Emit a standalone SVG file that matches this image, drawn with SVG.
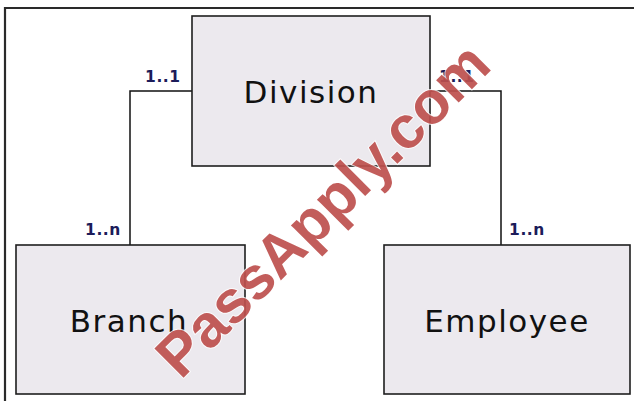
<svg xmlns="http://www.w3.org/2000/svg" width="634" height="401" viewBox="0 0 634 401">
  <style>
    .box { fill: #ece9ee; stroke: #1e1e1e; stroke-width: 1.6; }
    .name { font-family: "DejaVu Sans", Verdana, sans-serif; font-size: 31px; fill: #111; text-anchor: middle; letter-spacing: 1.5px; }
    .card { font-family: "DejaVu Sans", Verdana, sans-serif; font-weight: bold; font-size: 15.5px; fill: #1c1c5a; letter-spacing: 0.6px; }
    .conn { fill: none; stroke: #111; stroke-width: 1.5; }
    .wm { font-family: "Liberation Sans", Arial, sans-serif; font-weight: bold; font-size: 60px; fill: #bd4f4d; fill-opacity: 0.92; stroke: #ffffff; stroke-width: 2; stroke-opacity: 0.8; paint-order: stroke; text-anchor: middle; }
  </style>
  <rect x="0" y="0" width="634" height="401" fill="#ffffff"/>
  <path d="M5 410 V8 H640" fill="none" stroke="#2a2a2a" stroke-width="2.2"/>
  <g id="connectors">
    <polyline class="conn" points="192,91 130,91 130,245"/>
    <polyline class="conn" points="430,91 501,91 501,245"/>
    <text class="card" x="145" y="82">1..1</text>
    <text class="card" x="439" y="82">1..1</text>
    <text class="card" x="85" y="235">1..n</text>
    <text class="card" x="509" y="235">1..n</text>
  </g>
  <g id="division">
    <rect class="box" x="192" y="16" width="238" height="150"/>
    <text class="name" x="311" y="103">Division</text>
  </g>
  <g id="branch">
    <rect class="box" x="16" y="245" width="229" height="149"/>
    <text class="name" x="129" y="332">Branch</text>
  </g>
  <g id="employee">
    <rect class="box" x="384" y="245" width="246" height="149"/>
    <text class="name" x="507" y="332">Employee</text>
  </g>
  <text class="wm" x="0" y="20" transform="translate(323,210) rotate(-45)">PassApply.com</text>
</svg>
